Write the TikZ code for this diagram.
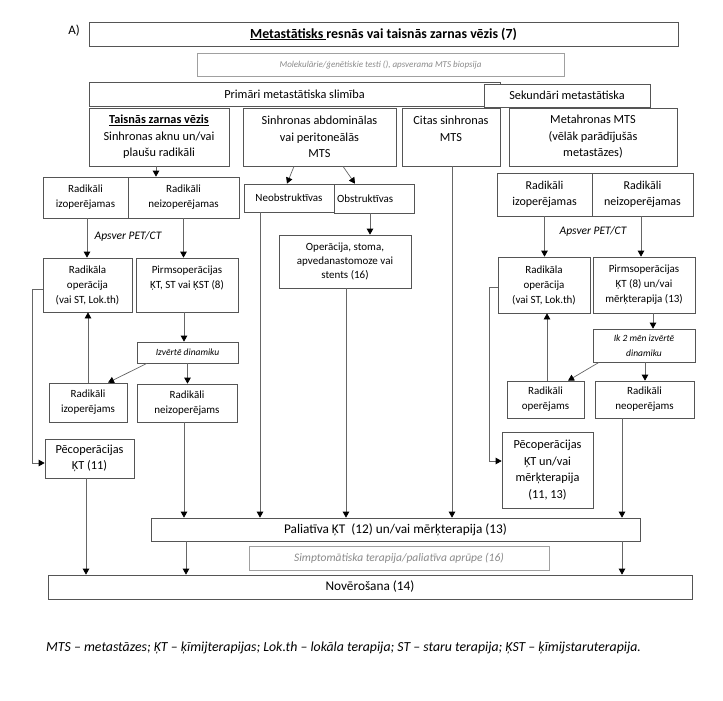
\documentclass[tikz,border=0pt]{standalone}
\usepackage{fontspec}
\setmainfont{Carlito}
\usetikzlibrary{arrows.meta,calc}
\definecolor{bord}{HTML}{555555}
\definecolor{lin}{HTML}{666666}
\definecolor{lgray}{HTML}{8A8A8A}
\definecolor{lbord}{HTML}{A0A0A0}
\begin{document}
\begin{tikzpicture}[x=1pt,y=-1pt,
  box/.style={draw=bord, line width=0.7pt, fill=white, align=center, inner sep=0pt},
  gbox/.style={draw=lbord, line width=0.7pt, fill=white, align=center, inner sep=0pt, text=lgray},
  big/.style={font=\fontsize{12.3}{16.5}\selectfont},
  sml/.style={font=\fontsize{11}{15}\selectfont},
  mid/.style={font=\fontsize{12}{16}\selectfont},
  ita/.style={font=\itshape\fontsize{9.5}{14.5}\selectfont},
  arr/.style={draw=lin, line width=0.7pt, -{Triangle[length=6pt,width=6.5pt,color=black]}},
  ]
\useasboundingbox (0,0) rectangle (723,701);
\fill[white] (0,0) rectangle (723,701);

% top
\node[font=\fontsize{13}{15}\selectfont, inner sep=0pt] (lab) at (74,31) {A)};
\node[box, minimum width=589pt, minimum height=24pt, font=\bfseries\fontsize{13.9}{16}\selectfont] (title) at (383.5,34) {\underline{Metastātisks\ }resnās vai taisnās zarnas vēzis (7)};
\node[gbox, minimum width=367pt, minimum height=23pt, font=\itshape\fontsize{9}{12}\selectfont] (mol) at (380.5,64.5) {Molekulārie/ģenētiskie testi (), apsverama MTS biopsija};
\node[box, minimum width=411pt, minimum height=23.5pt, big] (prim) at (294.5,94.5) {Primāri metastātiska slimība};
\node[box, minimum width=166pt, minimum height=23pt, big] (sek) at (567,95.5) {Sekundāri metastātiska};

% row 2
\node[box, minimum width=140pt, minimum height=58pt, big] (tais) at (159,137) {\underline{\textbf{Taisnās zarnas vēzis}}\\Sinhronas aknu un/vai\\plaušu radikāli};
\node[box, minimum width=153pt, minimum height=58pt, big] (sabd) at (319.5,137) {Sinhronas abdominālas\\vai peritoneālās\\MTS};
\node[box, minimum width=98pt, minimum height=58pt, big] (citas) at (451,137) {Citas sinhronas\\MTS\\\mbox{}};
\node[box, minimum width=168pt, minimum height=58pt, big] (meta) at (593,137) {Metahronas MTS\\(vēlāk parādījušās\\metastāzes)};

% row 3
\node[box, minimum width=85pt, minimum height=41pt, sml] (izop) at (85.5,197.5) {Radikāli\\izoperējamas};
\node[box, minimum width=111pt, minimum height=41pt, sml] (neizop) at (183.5,197.5) {Radikāli\\neizoperējamas};
\node[box, minimum width=80pt, minimum height=29pt] (obs) at (374,198.5) {};
\node[sml, anchor=west, inner sep=0pt] (obstxt) at (337,198.5) {Obstruktīvas};
\node[box, minimum width=90pt, minimum height=28pt, sml] (neobs) at (289,198) {Neobstruktīvas};
\node[box, minimum width=95pt, minimum height=43pt, mid] (rizop) at (544.5,194.5) {Radikāli\\izoperējamas};
\node[box, minimum width=101pt, minimum height=43pt, mid] (rneizop) at (642.5,194.5) {Radikāli\\neizoperējamas};

\node[font=\itshape\fontsize{11.5}{13}\selectfont, inner sep=0pt] (pet1) at (128,236) {Apsver PET/CT};
\node[font=\itshape\fontsize{11.5}{13}\selectfont, inner sep=0pt] (pet2) at (593,231) {Apsver PET/CT};

% row 4
\node[box, minimum width=89pt, minimum height=54pt, sml] (rop) at (87.5,285) {Radikāla\\operācija\\(vai ST, Lok.th)};
\node[box, minimum width=102pt, minimum height=54pt, sml] (pirm) at (187,285) {Pirmsoperācijas\\ĶT, ST vai ĶST (8)\\\mbox{}};
\node[box, minimum width=132pt, minimum height=53pt, font=\fontsize{11}{14}\selectfont] (oper) at (345,261.5) {Operācija, stoma,\\apvedanastomoze vai\\stents (16)};
\node[box, minimum width=92pt, minimum height=56pt, sml] (rrop) at (544,285) {Radikāla\\operācija\\(vai ST, Lok.th)};
\node[box, minimum width=102pt, minimum height=56pt, sml] (rpirm) at (644,285) {Pirmsoperācijas\\ĶT (8) un/vai\\mērķterapija (13)};

% row 5
\node[box, minimum width=101pt, minimum height=21pt, ita] (izv) at (187.5,352.5) {Izvērtē dinamiku};
\node[box, minimum width=102pt, minimum height=33pt, ita] (ik2) at (644,345.5) {Ik 2 mēn izvērtē\\dinamiku};

% row 6
\node[box, minimum width=78pt, minimum height=39pt, sml] (rizops) at (88,402.5) {Radikāli\\izoperējams};
\node[box, minimum width=100pt, minimum height=38pt, sml] (rneizops) at (187,403) {Radikāli\\neizoperējams};
\node[box, minimum width=77pt, minimum height=37pt, sml] (roper) at (545.5,399.5) {Radikāli\\operējams};
\node[box, minimum width=99pt, minimum height=37pt, sml] (rneoper) at (644.5,399.5) {Radikāli\\neoperējams};

% row 7
\node[box, minimum width=89pt, minimum height=39pt, big] (pec) at (89.5,458.5) {Pēcoperācijas\\ĶT (11)};
\node[box, minimum width=91pt, minimum height=76pt, big] (rpec) at (547.5,470) {Pēcoperācijas\\ĶT un/vai\\mērķterapija\\(11, 13)};

% bottom
\node[box, minimum width=489pt, minimum height=23pt, font=\fontsize{13.3}{15}\selectfont] (pal) at (395.5,529.5) {Paliatīva ĶT\ \ (12) un/vai mērķterapija (13)};
\node[gbox, minimum width=300pt, minimum height=24pt, font=\itshape\fontsize{11.5}{13}\selectfont] (simp) at (399,558) {Simptomātiska terapija/paliatīva aprūpe (16)};
\node[box, minimum width=644pt, minimum height=24pt, font=\fontsize{13.3}{15}\selectfont] (nov) at (370,587) {Novērošana (14)};

\node[anchor=west, inner sep=0pt, font=\itshape\fontsize{13.8}{15}\selectfont] (foot) at (46,648) {MTS – metastāzes; ĶT – ķīmijterapijas; Lok.th – lokāla terapija; ST – staru terapija; ĶST – ķīmijstaruterapija.};

% connectors
\draw[arr] ([xshift=-3pt]tais.south) -- ([xshift=-3pt]tais.south |- neizop.north);
\draw[arr] ([xshift=-25.5pt]sabd.south) -- ([xshift=-2pt]neobs.north);
\draw[arr] ([xshift=23.5pt]sabd.south) -- ([xshift=-19pt]obs.north);

\draw[arr] ([xshift=1.5pt]izop.south) -- ([xshift=1.5pt]izop.south |- rop.north);
\draw[arr] (neizop.south) -- (neizop.south |- pirm.north);
\draw[arr] ([xshift=-4pt]obs.south) -- ([xshift=-4pt]obs.south |- oper.north);
\draw[arr] (rizop.south) -- (rizop.south |- rrop.north);
\draw[arr] ([xshift=-1.5pt]rneizop.south) -- ([xshift=-1.5pt]rneizop.south |- rpirm.north);

\draw[arr] ([xshift=-3pt]pirm.south) -- ([xshift=-3pt]pirm.south |- izv.north);
\draw[arr] ([xshift=-40.5pt]izv.south) -- ([xshift=20pt]rizops.north);
\draw[arr] (izv.south) -- (izv.south |- rneizops.north);
\draw[arr] (rizops.north) -- (rizops.north |- rop.south);
\draw[arr] ([yshift=-4pt]rop.west) -- ++(-10,0) |- ([yshift=-4.5pt]pec.west);

\draw[arr] ([xshift=9pt]rpirm.south) -- ([xshift=9pt]rpirm.south |- ik2.north);
\draw[arr] ([xshift=-45pt]ik2.south) -- ([xshift=22.5pt]roper.north);
\draw[arr] ([xshift=1pt]ik2.south) -- ([xshift=1pt]ik2.south |- rneoper.north);
\draw[arr] ([xshift=1.5pt]roper.north) -- ([xshift=1.5pt]roper.north |- rrop.south);
\draw[arr] ([yshift=-2pt]rrop.west) -- ++(-8,0) |- ([yshift=9pt]rpec.west);

\draw[arr] ([xshift=-3pt]rneizops.south) -- ([xshift=-3pt]rneizops.south |- pal.north);
\draw[arr] ([xshift=-29pt]neobs.south) -- ([xshift=-29pt]neobs.south |- pal.north);
\draw[arr] ([xshift=1pt]oper.south) -- ([xshift=1pt]oper.south |- pal.north);
\draw[arr] ([xshift=1pt]citas.south) -- ([xshift=1pt]citas.south |- pal.north);
\draw[arr] ([xshift=-22.5pt]rneoper.south) -- ([xshift=-22.5pt]rneoper.south |- pal.north);

\draw[arr] ([xshift=-3.5pt]pec.south) -- ([xshift=-3.5pt]pec.south |- nov.north);
\draw[arr] ([xshift=-209.5pt]pal.south) -- ([xshift=-209.5pt]pal.south |- nov.north);
\draw[arr] ([xshift=226.5pt]pal.south) -- ([xshift=226.5pt]pal.south |- nov.north);
\end{tikzpicture}
\end{document}
